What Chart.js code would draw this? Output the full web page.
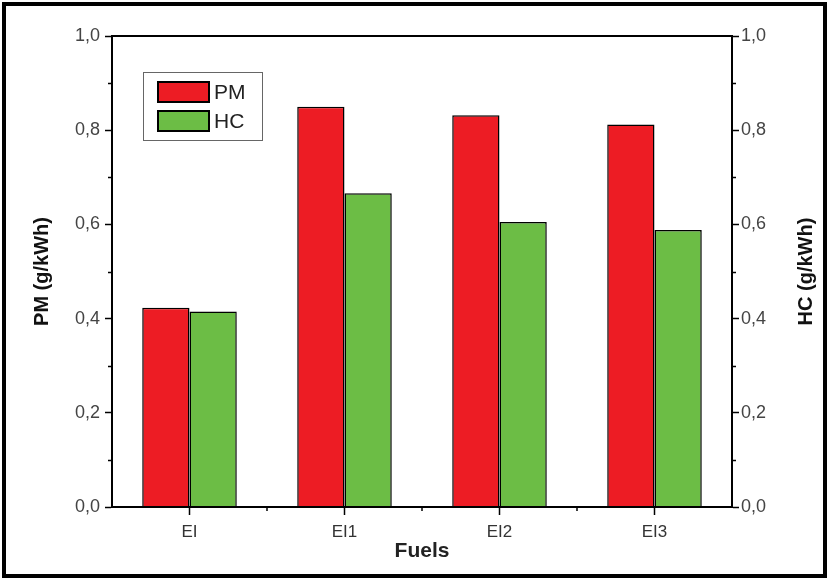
<!DOCTYPE html>
<html>
<head>
<meta charset="utf-8">
<script src="https://cdn.jsdelivr.net/npm/chart.js@4"></script>
<style>
  body { margin: 0; background: #fff; }
  #wrap { width: 829px; height: 580px; position: relative; }
</style>
</head>
<body>
<div id="wrap"><canvas id="fuelChart" width="829" height="580"></canvas></div>
<script>
const fuels = ['EI', 'EI1', 'EI2', 'EI3']
const pm = [0.423, 0.850, 0.832, 0.812]
const hc = [0.415, 0.666, 0.605, 0.588]
const yTicks = [0, 0.2, 0.4, 0.6, 0.8, 1.0]
const rightTitle = 'HC (g/kWh)'

const fmt = v => v.toFixed(1).replace('.', ',')
const tickFont = { family: 'Liberation Sans', size: 18 }
const titleFont = { family: 'Liberation Sans', size: 20, weight: 'bold' }

// frame, minor ticks, outer border, right title and the boxed legend
const extras = {
    id: 'extras',
    beforeDraw(chart) {
        const c = chart.ctx
        c.save()
        c.fillStyle = '#fff'
        c.fillRect(0, 0, chart.width, chart.height)
        c.restore()
    },
    afterDraw(chart) {
        const c = chart.ctx
        const a = chart.chartArea
        const y = chart.scales.y
        const x = chart.scales.x
        c.save()
        c.strokeStyle = '#000'
        c.lineWidth = 2
        c.strokeRect(a.left, a.top, a.right - a.left, a.bottom - a.top)

        // minor ticks
        c.lineWidth = 1.5
        c.beginPath()
        for (let v = 0.1; v < 1; v += 0.2) {
            const py = Math.round(y.getPixelForValue(v)) + 0.5
            c.moveTo(a.left - 4, py); c.lineTo(a.left, py)
            c.moveTo(a.right, py); c.lineTo(a.right + 4, py)
        }
        for (let i = 1; i < fuels.length; i++) {
            const px = (x.getPixelForValue(i - 1) + x.getPixelForValue(i)) / 2
            c.moveTo(px, a.bottom); c.lineTo(px, a.bottom + 4)
        }
        c.stroke()

        // outer border
        c.lineWidth = 4
        c.strokeRect(4, 4, chart.width - 8, chart.height - 8)

        // right axis title, read bottom to top like the left one
        c.save()
        c.translate(806, (a.top + a.bottom) / 2)
        c.rotate(-Math.PI / 2)
        c.font = 'bold 20px Liberation Sans'
        c.fillStyle = '#111'
        c.textAlign = 'center'
        c.textBaseline = 'middle'
        c.fillText(rightTitle, 0, 0)
        c.restore()

        // legend
        const lx = 143, ly = 72, lw = 119, lh = 68
        c.lineWidth = 1
        c.strokeStyle = '#666'
        c.strokeRect(lx + 0.5, ly + 0.5, lw, lh)
        c.font = '21px Liberation Sans'
        c.textBaseline = 'middle'
        chart.data.datasets.forEach((ds, i) => {
            const sy = ly + 10 + i * 29
            c.fillStyle = ds.backgroundColor
            c.fillRect(lx + 15, sy, 51, 20)
            c.strokeStyle = '#000'
            c.lineWidth = 2
            c.strokeRect(lx + 15, sy, 51, 20)
            c.fillStyle = '#222'
            c.fillText(ds.label, lx + 71, sy + 11)
        })
        c.restore()
    }
}

new Chart(document.getElementById('fuelChart'), {
    type: 'bar',
    data: {
        labels: fuels,
        datasets: [{
            label: 'PM',
            data: pm,
            yAxisID: 'y',
            backgroundColor: '#ED1C24',
            borderColor: '#000',
            borderWidth: 1.5,
            borderSkipped: 'bottom',
            barPercentage: 1,
            categoryPercentage: 0.61
        }, {
            label: 'HC',
            data: hc,
            yAxisID: 'y2',
            backgroundColor: '#6CBD45',
            borderColor: '#000',
            borderWidth: 1.5,
            borderSkipped: 'bottom',
            barPercentage: 1,
            categoryPercentage: 0.61
        }]
    },
    options: {
        responsive: false,
        animation: false,
        layout: { padding: { left: 20, right: 20, top: 36, bottom: 12 } },
        plugins: {
            legend: { display: false },
            tooltip: { enabled: false }
        },
        scales: {
            x: {
                grid: { display: true, drawOnChartArea: false, offset: false, tickLength: 8, tickColor: '#000', tickWidth: 1.5 },
                border: { display: true, color: '#000', width: 2 },
                ticks: { color: '#333', font: { family: 'Liberation Sans', size: 17 }, padding: 7 },
                title: { display: true, text: 'Fuels', color: '#222', font: { family: 'Liberation Sans', size: 21, weight: 'bold' }, padding: { top: 0, bottom: 4 } },
                afterFit(s) { s.height = 61 }
            },
            y: {
                position: 'left',
                min: 0, max: 1,
                afterBuildTicks(s) { s.ticks = yTicks.map(v => ({ value: v })) },
                grid: { display: true, drawOnChartArea: false, tickLength: 7, tickColor: '#000', tickWidth: 1.5 },
                border: { display: true, color: '#000', width: 2 },
                ticks: { color: '#444', font: tickFont, padding: 5, callback: v => fmt(v) },
                title: { display: true, text: 'PM (g/kWh)', color: '#111', font: titleFont, padding: { top: 10, bottom: 0 } },
                afterFit(s) { s.width = 92 }
            },
            y2: {
                position: 'right',
                min: 0, max: 1,
                afterBuildTicks(s) { s.ticks = yTicks.map(v => ({ value: v })) },
                grid: { display: true, drawOnChartArea: false, tickLength: 7, tickColor: '#000', tickWidth: 1.5 },
                border: { display: true, color: '#000', width: 2 },
                ticks: { color: '#444', font: tickFont, padding: 2, callback: v => fmt(v) },
                title: { display: false },
                afterFit(s) { s.width = 77 }
            }
        }
    },
    plugins: [extras]
});
</script>
</body>
</html>
